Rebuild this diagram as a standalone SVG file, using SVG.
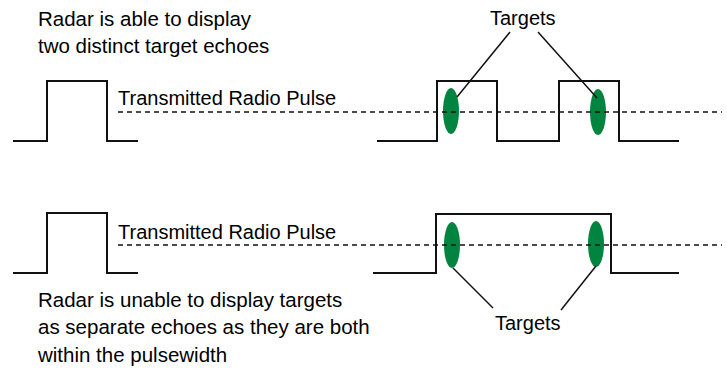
<svg xmlns="http://www.w3.org/2000/svg" width="727" height="376" viewBox="0 0 727 376">
<style>
text{font-family:"Liberation Sans",Arial,sans-serif;font-size:20px;fill:#000}
.cap{font-size:20.5px}
.wave{fill:none;stroke:#111;stroke-width:2}
.dash{fill:none;stroke:#111;stroke-width:1.5;stroke-dasharray:5,4}
.lead{fill:none;stroke:#111;stroke-width:1.5}
.tgt{fill:#00843f}
</style>
<rect width="727" height="376" fill="#fff"/>
<g id="caption-top"><text class="cap" x="38" y="26">Radar is able to display</text><text class="cap" x="38" y="53">two distinct target echoes</text></g>
<g id="tx-pulse-top"><path class="wave" d="M13,141 H47 V81 H107 V141 H138"/><text x="118" y="105">Transmitted Radio Pulse</text></g>
<g id="echo-top"><path class="wave" d="M377,141 H437 V81 H497 V141 H559 V81 H619 V141 H679"/></g>
<g id="targets-top"><ellipse class="tgt" cx="451" cy="111" rx="8" ry="23"/><ellipse class="tgt" cx="598" cy="112" rx="8" ry="23"/><text x="490" y="25">Targets</text></g>
<g id="caption-bottom"><text class="cap" x="38" y="307">Radar is unable to display targets</text><text class="cap" x="38" y="334">as separate echoes as they are both</text><text class="cap" x="38" y="362">within the pulsewidth</text></g>
<g id="tx-pulse-bottom"><path class="wave" d="M13,273 H47 V213 H107 V273 H138"/><text x="118" y="239">Transmitted Radio Pulse</text></g>
<g id="echo-bottom"><path class="wave" d="M373,273 H436 V214 H611 V273 H679"/></g>
<g id="targets-bottom"><ellipse class="tgt" cx="452" cy="245" rx="8" ry="23"/><ellipse class="tgt" cx="596" cy="244" rx="8" ry="23"/><text x="495" y="330">Targets</text></g>
<g id="connectors">
<line class="dash" x1="118" y1="112" x2="722" y2="112"/>
<line class="dash" x1="118" y1="245" x2="722" y2="245"/>
<line class="lead" x1="510" y1="32" x2="457" y2="97"/>
<line class="lead" x1="538" y1="32" x2="597" y2="98"/>
<line class="lead" x1="453" y1="268" x2="493" y2="308"/>
<line class="lead" x1="596" y1="266" x2="561" y2="310"/>
</g>
</svg>
